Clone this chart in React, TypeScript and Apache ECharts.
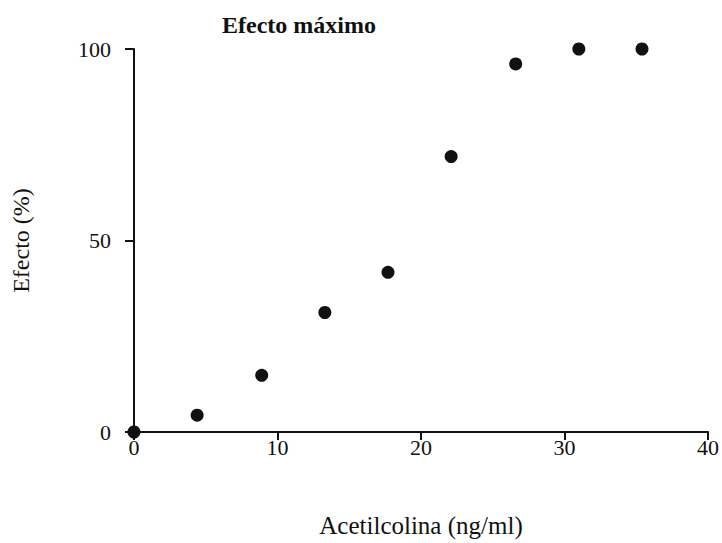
import React, { useEffect, useRef } from "react";
import * as echarts from "echarts";

const doseValues = [0, 4.4, 8.9, 13.3, 17.7, 22.1, 26.6, 31.0, 35.4];
const effectValues = [0, 4.4, 14.8, 31.2, 41.7, 71.9, 96.1, 100, 100];
const xTicks = [0, 10, 20, 30, 40];
const yTicks = [0, 50, 100];

const FONT = "'Liberation Serif', 'DejaVu Serif', serif";
const INK = "#111111";

export default function App() {
  const ref = useRef<HTMLDivElement>(null);
  useEffect(() => {
    if (!ref.current) return;
    const chart = echarts.init(ref.current, null, { renderer: "svg" });
    const data = doseValues.map((x, i) => [x, effectValues[i]]);
    chart.setOption({
      animation: false,
      backgroundColor: "#ffffff",
      title: {
        text: "Efecto máximo",
        left: 217,
        top: 8,
        textStyle: { fontFamily: FONT, fontSize: 24, fontWeight: "bold", color: INK },
      },
      grid: { left: 134, right: 13, top: 49, bottom: 110 },
      xAxis: {
        type: "value",
        min: 0,
        max: 40,
        interval: 10,
        name: "Acetilcolina (ng/ml)",
        nameLocation: "middle",
        nameGap: 81,
        nameTextStyle: { fontFamily: FONT, fontSize: 25, color: INK },
        axisLine: { lineStyle: { color: INK, width: 2 } },
        axisTick: { show: true, length: 8, lineStyle: { color: INK, width: 2 } },
        axisLabel: {
          fontFamily: FONT,
          fontSize: 22,
          color: INK,
          margin: 4,
          formatter: (v: number) => (xTicks.includes(v) ? String(v) : ""),
        },
        splitLine: { show: false },
      },
      yAxis: {
        type: "value",
        min: 0,
        max: 100,
        interval: 50,
        name: "Efecto (%)",
        nameLocation: "middle",
        nameGap: 101,
        nameRotate: 90,
        nameTextStyle: { fontFamily: FONT, fontSize: 24, color: INK },
        axisLine: { show: true, lineStyle: { color: INK, width: 2 } },
        axisTick: { show: true, length: 9, lineStyle: { color: INK, width: 2 } },
        axisLabel: {
          fontFamily: FONT,
          fontSize: 22,
          color: INK,
          margin: 23,
          formatter: (v: number) => (yTicks.includes(v) ? String(v) : ""),
        },
        splitLine: { show: false },
      },
      series: [
        {
          type: "scatter",
          data,
          symbol: "circle",
          symbolSize: 13,
          clip: false,
          itemStyle: { color: INK, opacity: 1 },
        },
      ],
    });
    return () => chart.dispose();
  }, []);
  return <div ref={ref} style={{ width: 722, height: 543, position: "absolute", left: 0, top: 0 }} />;
}
